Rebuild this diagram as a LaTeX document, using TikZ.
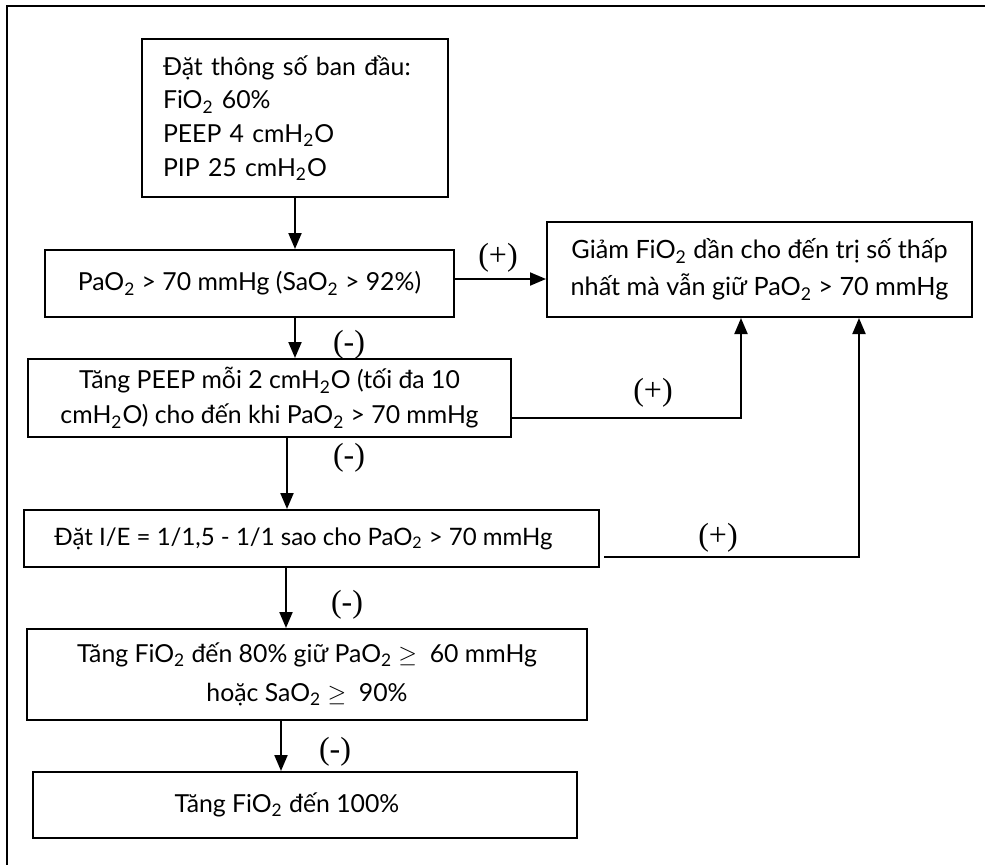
\documentclass[tikz,border=0pt]{standalone}
\usepackage{fontspec}
\setmainfont{Lato}
\newfontfamily\pmfont{Liberation Serif}
\usetikzlibrary{arrows.meta}
\newcommand{\two}{\textsubscript{2}}
\begin{document}
\begin{tikzpicture}[x=0.5pt,y=-0.5pt,
  box/.style={draw, line width=1pt, inner sep=0pt, align=center,
    font=\fontsize{12.4}{17.5}\selectfont},
  arr/.style={line width=1pt, -{Triangle[length=8pt,width=6.5pt]}},
  pm/.style={font=\pmfont\fontsize{16}{18}\selectfont, inner sep=0pt}]
\useasboundingbox (0,0) rectangle (985,864);
\fill[white] (0,0) rectangle (985,864);
\draw[line width=1pt] (7,880) -- (7,6) -- (1000,6);
% boxes
\node[box, align=left, text width=132pt, inner xsep=10.5pt, minimum height=79pt,
  font=\fontsize{12.4}{16.8}\selectfont] (b1) at (295,118)
  {Đặt thông số ban đầu:\\FiO\two{} 60\%\\PEEP 4 cmH\two O\\PIP 25 cmH\two O};
\node[box, minimum width=204.5pt, minimum height=33.5pt] (b2) at (249.5,283.5)
  {PaO\two{} > 70 mmHg (SaO\two{} > 92\%)};
\node[box, minimum width=212.5pt, minimum height=47.5pt,
  font=\fontsize{12.6}{18.5}\selectfont] (b3) at (759.5,269.5)
  {Giảm FiO\two{} dần cho đến trị số thấp\\nhất mà vẫn giữ PaO\two{} > 70 mmHg};
\node[box, minimum width=241.5pt, minimum height=39pt] (b4) at (269.5,398)
  {Tăng PEEP mỗi 2 cmH\two O (tối đa 10\\cmH\two O) cho đến khi PaO\two{} > 70 mmHg};
\node[box, minimum width=287.5pt, minimum height=28.5pt,
  font=\fontsize{12}{17.5}\selectfont] (b5) at (311.5,538.5)
  {Đặt I/E = 1/1,5 - 1/1 sao cho PaO\two{} > 70 mmHg\hspace*{8pt}};
\node[box, minimum width=280pt, minimum height=45.5pt,
  font=\fontsize{12.4}{19.5}\selectfont] (b6) at (307,674.5)
  {Tăng FiO\two{} đến 80\% giữ PaO\two{} $\geq$\ \ 60 mmHg\\hoặc SaO\two{} $\geq$\ \ 90\%};
\node[box, minimum width=272pt, minimum height=33pt] (b7) at (305,805)
  {Tăng FiO\two{} đến 100\%\hspace*{18pt}};
% coordinates
\coordinate (x1) at (295,0);
\coordinate (x3) at (287,0);
\coordinate (x4) at (286,0);
\coordinate (x5) at (281,0);
\coordinate (y1) at (0,279);
\coordinate (k1) at (741,418);
\coordinate (k2) at (859,557);
% connectors
\draw[arr] (b1.south -| x1) -- (b2.north -| x1);
\draw[arr] (b2.east |- y1) -- (b3.west |- y1);
\draw[arr] (b2.south -| x1) -- (b4.north -| x1);
\draw[arr] (b4.south -| x3) -- (b5.north -| x3);
\draw[arr] (b5.south -| x4) -- (b6.north -| x4);
\draw[arr] (b6.south -| x5) -- (b7.north -| x5);
\draw[arr] (b4.east |- k1) -- (k1) -- (b3.south -| k1);
\draw[arr, shorten <=2pt] (b5.east |- k2) -- (k2) -- (b3.south -| k2);
% labels
\node[pm] (p1) at (498,258) {(+)};
\node[pm] (m1) at (349,345) {(-)};
\node[pm] (p2) at (653,393) {(+)};
\node[pm] (m2) at (349,458) {(-)};
\node[pm] (p3) at (718,538) {(+)};
\node[pm] (m3) at (347,605) {(-)};
\node[pm] (m4) at (335,752) {(-)};
\end{tikzpicture}
\end{document}
